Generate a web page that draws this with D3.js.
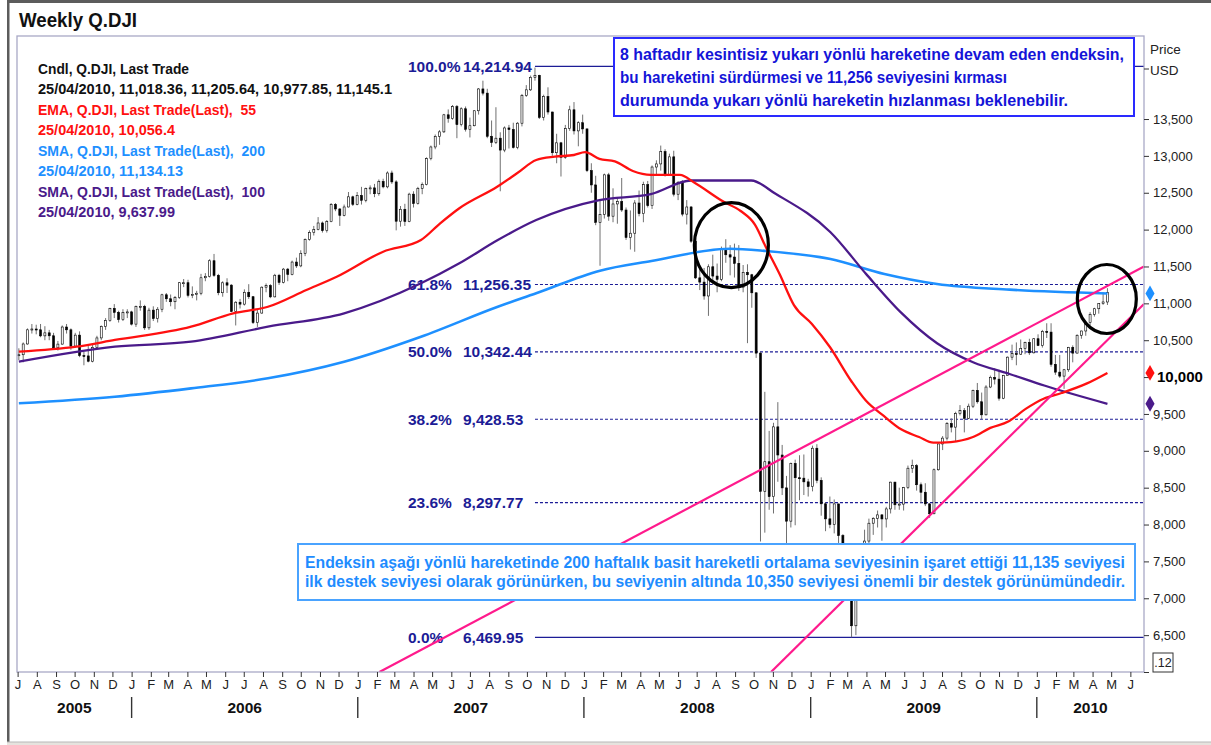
<!DOCTYPE html>
<html>
<head>
<meta charset="utf-8">
<script src="https://cdn.jsdelivr.net/npm/d3@7"></script>
<style>
  html, body { margin: 0; padding: 0; background: #fff; }
  svg { display: block; font-family: "Liberation Sans", Arial, sans-serif; }
</style>
</head>
<body>
<svg id="chart" width="1211" height="745"></svg>
<script>
// ── Data ─────────────────────────────────────────────────────────────────────
// weekly bars, one per Sunday from 03/07/2005 to 25/04/2010 (week-ending label)
const barOpen = [
  10297,10303,10449,10641,10652,10641,10559,10600,10560,10397,10447,10679,10641,10420,10569,10292,10287,10215,10403,10531,10687,10766,10932,10878,10779,10876,
  10884,10718,10959,10960,10668,10908,10794,10920,11116,11062,11022,11077,11280,11280,11109,11121,11137,11347,11367,11578,11380,11144,11279,11247,10891,11015,10989,11150,11090,10739,10868,11219,11240,11088,11381,11284,11464,11392,11560,11508,11679,11867,11960,12002,12090,11986,12108,12342,12280,12194,12307,12445,12343,
  12463,12398,12556,12566,12487,12653,12580,12768,12647,12114,12276,12110,12481,12354,12560,12612,12962,13121,13265,13326,13557,13507,13668,13424,13639,13361,13409,13612,13908,13851,13266,13182,13240,13079,13379,13358,13114,13443,13821,13896,14066,14093,13522,13806,13595,13043,13177,12981,13372,13625,13339,13450,
  13366,12800,12606,12099,12207,12743,12182,12348,12381,12266,11894,11951,12361,12216,12610,12325,12849,12891,13058,12745,12987,12480,12638,12210,12307,11843,11346,11288,11100,11496,11370,11326,11734,11659,11628,11543,11220,11421,11388,11143,10325,8451,8852,8378,9325,8943,8497,8046,8829,8635,8629,8579,
  8515,9035,8599,8281,8077,8001,8280,7850,7366,7063,6627,7224,7279,7776,8018,8083,8131,8076,8212,8575,8268,8277,8500,8764,8799,8540,8438,8280,8146,8743,9093,9172,9370,9321,9505,9544,9441,9605,9820,9665,9488,9865,9996,9972,9713,10023,10270,10318,10310,10389,10471,10329,
  10520,10428,10619,10610,10173,10067,10013,10099,10403,10325,10567,10625,10742,10851,10927,10997,11018.36
];
const barHigh = [
  10390,10470,10660,10720,10710,10720,10690,10640,10600,10490,10700,10720,10660,10600,10620,10340,10420,10440,10560,10700,10800,10940,10990,10900,10920,10920,
  10900,10970,11040,10980,10940,10960,10950,11130,11140,11120,11100,11290,11330,11320,11230,11170,11400,11410,11600,11670,11400,11300,11340,11260,11030,11060,11190,11260,11100,10910,11230,11270,11260,11400,11400,11480,11480,11580,11620,11720,11880,11990,12050,12170,12110,12130,12360,12360,12290,12340,12510,12460,12510,
  12580,12570,12600,12620,12680,12690,12790,12800,12670,12320,12350,12500,12520,12580,12640,12980,13140,13290,13350,13570,13630,13690,13690,13660,13670,13520,13620,13920,14020,13910,13480,13660,13320,13400,13420,13450,13460,13840,13960,14090,14198,14100,13830,13930,13600,13300,13190,13420,13680,13730,13470,13560,
  13370,12900,12730,12400,12760,12770,12560,12430,12700,12300,12260,12400,12530,12650,12660,12870,12940,13140,13090,13030,13070,12660,12670,12400,12320,11890,11520,11480,11530,11660,11540,11770,11870,11790,11810,11790,11520,11530,11400,11150,10340,9800,9270,9380,9660,9080,8660,8840,8880,8940,8950,8620,
  9070,9090,8640,8300,8380,8340,8280,7870,7470,7090,7250,7490,7930,8080,8100,8190,8140,8240,8580,8580,8500,8510,8800,8880,8820,8570,8560,8290,8760,9100,9200,9390,9440,9530,9620,9580,9640,9830,9920,9790,9890,10020,10120,10100,10030,10280,10440,10470,10510,10480,10520,10530,
  10580,10640,10730,10730,10300,10300,10110,10410,10430,10580,10630,10760,10880,10940,11000,11150,11205.64
];
const barLow = [
  10230,10200,10440,10590,10580,10540,10500,10500,10380,10360,10440,10590,10370,10400,10270,10160,10200,10200,10380,10500,10640,10750,10800,10740,10760,10800,
  10700,10680,10900,10640,10640,10760,10740,10880,11020,10960,10920,11060,11220,11080,11070,11040,11110,11300,11350,11360,11110,11090,11140,10880,10700,10930,10970,11060,10720,10680,10860,11150,11070,11080,11250,11270,11300,11380,11480,11490,11640,11850,11920,11990,11960,11960,12100,12250,12050,12180,12300,12320,12330,
  12340,12370,12480,12440,12460,12560,12560,12620,11990,12040,12050,12100,12300,12340,12480,12600,12940,13090,13150,13310,13450,13490,13240,13400,13330,13250,13400,13560,13820,13240,13120,13160,12520,13050,13100,13100,13090,13400,13800,13880,14020,13500,13480,13560,13000,12900,12720,12960,13340,13290,13130,13300,
  12780,12500,12060,11510,12150,12120,12100,12080,12240,11860,11730,11700,12180,12100,12300,12280,12740,12800,12720,12740,12450,12400,12180,12070,11820,11330,11180,11050,10830,11250,11150,11300,11550,11380,11350,11170,11150,10460,10940,10260,7770,7890,8200,8150,8580,8400,7450,7960,7990,8330,8400,8380,
  8450,8560,8120,7910,7950,7880,7750,7250,7000,6470,6500,7120,7270,7480,7860,7960,7780,7960,8150,8200,8200,8190,8480,8700,8460,8290,8250,8090,8140,8730,9010,9140,9250,9130,9480,9250,9430,9580,9640,9430,9480,9850,9900,9680,9700,10020,10230,10160,10300,10310,10300,10320,
  10420,10400,10530,10140,10030,9990,9840,10070,10200,10320,10520,10560,10700,10820,10860,10980,10977.85
];
const barClose = [
  10303,10449,10641,10652,10641,10559,10600,10560,10397,10447,10679,10641,10420,10569,10292,10287,10215,10403,10531,10687,10766,10932,10878,10779,10876,10884,
  10718,10959,10960,10668,10908,10794,10920,11116,11062,11022,11077,11280,11280,11109,11121,11137,11347,11367,11578,11380,11144,11279,11247,10891,11015,10989,11150,11090,10739,10868,11219,11240,11088,11381,11284,11464,11392,11560,11508,11679,11867,11960,12002,12090,11986,12108,12342,12280,12194,12307,12445,12343,12463,
  12398,12556,12566,12487,12653,12580,12768,12647,12114,12276,12110,12481,12354,12560,12612,12962,13121,13265,13326,13557,13507,13668,13424,13639,13361,13409,13612,13908,13851,13266,13182,13240,13079,13379,13358,13114,13443,13821,13896,14066,14093,13522,13806,13595,13043,13177,12981,13372,13625,13339,13450,13366,
  12800,12606,12099,12207,12743,12182,12348,12381,12266,11894,11951,12361,12216,12610,12325,12849,12891,13058,12745,12987,12480,12638,12210,12307,11843,11346,11288,11100,11496,11370,11326,11734,11659,11628,11543,11220,11421,11388,11143,10325,8451,8852,8378,9325,8943,8497,8046,8829,8635,8629,8579,8515,
  9035,8599,8281,8077,8001,8280,7850,7366,7063,6627,7224,7279,7776,8018,8083,8131,8076,8212,8575,8268,8277,8500,8764,8799,8540,8438,8280,8146,8743,9093,9172,9370,9321,9505,9544,9441,9605,9820,9665,9488,9865,9996,9972,9713,10023,10270,10318,10310,10389,10471,10329,10520,
  10428,10619,10610,10173,10067,10013,10099,10403,10325,10567,10625,10742,10851,10927,10997,11019,11145.1
];

// moving averages
const ema55 = [
  ["2005-07-03",10344],["2005-10-04",10412],["2005-12-05",10503],["2006-04-07",10683],["2006-06-14",10865],
  ["2006-08-09",10954],["2006-10-10",11181],["2006-11-28",11361],["2007-02-11",11700],["2007-04-13",11859],
  ["2007-05-14",12085],["2007-06-14",12290],["2007-08-14",12582],["2007-09-15",12764],["2007-10-16",12944],
  ["2007-11-15",12989],["2007-12-16",13012],["2008-01-03",13050],["2008-01-26",12960],["2008-02-20",12925],
  ["2008-03-20",12795],["2008-04-18",12743],["2008-06-04",12743],["2008-06-27",12639],["2008-08-13",12380],
  ["2008-09-10",12252],["2008-10-03",12068],["2008-10-21",11757],["2008-11-12",11394],["2008-12-05",10977],
  ["2009-01-03",10720],["2009-02-01",10408],["2009-03-08",9940],["2009-03-31",9681],["2009-04-29",9473],
  ["2009-05-27",9291],["2009-06-25",9187],["2009-07-18",9110],["2009-08-15",9119],["2009-09-20",9187],
  ["2009-10-18",9311],["2009-11-16",9396],["2009-12-14",9569],["2010-01-12",9707],["2010-02-10",9784],
  ["2010-03-23",9914],["2010-04-25",10056]
];
const sma200 = [
  ["2005-07-03",9644],["2005-12-05",9734],["2006-04-07",9847],["2006-08-09",9983],["2006-12-10",10208],
  ["2007-04-13",10547],["2007-08-15",10954],["2007-10-16",11136],["2008-01-27",11443],["2008-04-19",11574],
  ["2008-08-24",11741],["2008-10-21",11710],["2009-02-02",11601],["2009-04-30",11398],["2009-07-24",11262],
  ["2009-11-18",11186],["2010-04-25",11134]
];
const sma100 = [
  ["2005-07-03",10208],["2005-12-05",10412],["2006-04-07",10480],["2006-08-09",10683],["2006-12-10",10865],
  ["2007-04-13",11272],["2007-06-14",11543],["2007-08-15",11859],["2007-10-16",12130],["2008-01-26",12401],
  ["2008-04-18",12482],["2008-06-22",12666],["2008-09-27",12666],["2008-11-06",12482],["2009-02-02",11965],
  ["2009-04-01",11393],["2009-05-27",10874],["2009-07-24",10459],["2009-09-21",10198],["2009-11-18",10042],
  ["2010-01-13",9886],["2010-04-25",9638]
];
const lastValues = [11134.13, 10056.4, 9637.99];   // sma200, ema55, sma100

// Fibonacci retracement
const fibPct   = ["100.0%", "61.8%", "50.0%", "38.2%", "23.6%", "0.0%"];
const fibValue = [14214.94, 11256.35, 10342.44, 9428.53, 8297.77, 6469.95];
const fibFrom  = "2007-10-14";

// trend lines [start date, start value, end date, end value]
const trendLines = [
  ["2007-02-05", 6000, "2010-06-23", 11500],
  ["2008-10-29", 6000, "2010-06-23", 10991]
];
// highlighted zones [centre date, centre value]
const circleDates  = ["2008-08-26", "2010-04-24"];
const circleValues = [11791, 11059];

const yTickValues  = d3.range(6000, 14000, 500);
const monthLetters = ["J","F","M","A","M","J","J","A","S","O","N","D"];
const years        = [2005, 2006, 2007, 2008, 2009, 2010];

const legendLines = [
  "Cndl, Q.DJI, Last Trade",
  "25/04/2010, 11,018.36, 11,205.64, 10,977.85, 11,145.1",
  "EMA, Q.DJI, Last Trade(Last),  55",
  "25/04/2010, 10,056.4",
  "SMA, Q.DJI, Last Trade(Last),  200",
  "25/04/2010, 11,134.13",
  "SMA, Q.DJI, Last Trade(Last),  100",
  "25/04/2010, 9,637.99"
];
const noteTop = [
  "8 haftadır kesintisiz yukarı yönlü hareketine devam eden endeksin,",
  "bu hareketini sürdürmesi ve 11,256 seviyesini kırması",
  "durumunda yukarı yönlü hareketin hızlanması beklenebilir."
];
const noteBottom = [
  "Endeksin aşağı yönlü hareketinde 200 haftalık basit hareketli ortalama seviyesinin işaret ettiği 11,135 seviyesi",
  "ilk destek seviyesi olarak görünürken, bu seviyenin altında 10,350 seviyesi önemli bir destek görünümündedir."
];

// ── Layout ───────────────────────────────────────────────────────────────────
const parse = d3.timeParse("%Y-%m-%d");
const plot = { left: 17, top: 36, right: 1144, bottom: 672 };

const COL = {
  sma200: "#1e90ff", ema55: "#ff1010", sma100: "#4a1a8a",
  fib: "#1c1c96", trend: "#ff1a8c", frame: "#a9a9c6"
};

const svg = d3.select("#chart");

const x = d3.scaleTime()
  .domain([new Date(2005, 5, 30), new Date(2010, 5, 23)])
  .range([plot.left, plot.right]);
const y = d3.scaleLinear()
  .domain([6000, 14626])
  .range([plot.bottom, plot.top]);

// outer window frame
svg.append("rect").attr("x", 7).attr("y", 0).attr("width", 1204).attr("height", 3).attr("fill", "#5c5c5c");
svg.append("rect").attr("x", 7).attr("y", 0).attr("width", 2.5).attr("height", 742).attr("fill", "#5c5c5c");
svg.append("rect").attr("x", 7).attr("y", 742).attr("width", 1204).attr("height", 3).attr("fill", "#e6e3de");
svg.append("line").attr("x1", 7).attr("x2", 1211).attr("y1", 742).attr("y2", 742).attr("stroke", "#b8b8b8");

svg.append("text")
  .attr("x", 19).attr("y", 27)
  .attr("font-size", 20.5).attr("font-weight", "bold").attr("fill", "#111")
  .attr("textLength", 118).attr("lengthAdjust", "spacingAndGlyphs")
  .text("Weekly Q.DJI");

svg.append("defs").append("clipPath").attr("id", "plot-clip")
  .append("rect")
  .attr("x", plot.left).attr("y", plot.top)
  .attr("width", plot.right - plot.left).attr("height", plot.bottom - plot.top);

const g = svg.append("g").attr("clip-path", "url(#plot-clip)");

// ── Fibonacci levels ─────────────────────────────────────────────────────────
const fibX0 = x(parse(fibFrom));
fibValue.forEach((v, i) => {
  const solid = i === 0 || i === fibValue.length - 1;
  g.append("line")
    .attr("x1", fibX0).attr("x2", plot.right)
    .attr("y1", y(v)).attr("y2", y(v))
    .attr("stroke", COL.fib)
    .attr("stroke-width", solid ? 1.3 : 1.1)
    .attr("stroke-dasharray", solid ? null : "3,2");
  g.append("text")
    .attr("x", fibX0 - 127).attr("y", y(v)).attr("dy", "0.36em")
    .attr("font-size", 15.5).attr("font-weight", "bold").attr("fill", COL.fib)
    .text(fibPct[i]);
  g.append("text")
    .attr("x", fibX0 - 72).attr("y", y(v)).attr("dy", "0.36em")
    .attr("font-size", 15.5).attr("font-weight", "bold").attr("fill", COL.fib)
    .text(d3.format(",.2f")(v));
});

// ── Weekly candles ───────────────────────────────────────────────────────────
const weeks = d3.timeWeek.range(new Date(2005, 6, 3), new Date(2010, 3, 26));
const n = Math.min(weeks.length, barClose.length);
const bars = d3.range(n).map(i => ({
  date: weeks[i], o: barOpen[i], h: barHigh[i], l: barLow[i], c: barClose[i]
}));

const gBars = g.append("g");
gBars.selectAll("line").data(bars).join("line")
  .attr("x1", d => x(d.date)).attr("x2", d => x(d.date))
  .attr("y1", d => y(Math.max(d.h, d.o, d.c)))
  .attr("y2", d => y(Math.min(d.l, d.o, d.c)))
  .attr("stroke", "#707070").attr("stroke-width", 1);
gBars.selectAll("rect").data(bars).join("rect")
  .attr("x", d => x(d.date) - 1).attr("width", 2)
  .attr("y", d => y(Math.max(d.o, d.c)))
  .attr("height", d => Math.max(1, Math.abs(y(d.o) - y(d.c))))
  .attr("fill", d => d.c >= d.o ? "#fff" : "#000")
  .attr("stroke", "#000").attr("stroke-width", 0.6);

// ── Moving averages ──────────────────────────────────────────────────────────
const maLine = d3.line()
  .x(d => x(parse(d[0]))).y(d => y(d[1]))
  .curve(d3.curveMonotoneX);

[[sma200, COL.sma200, 2.6], [sma100, COL.sma100, 2.3], [ema55, COL.ema55, 2.3]]
  .forEach(([data, colour, w]) => {
    g.append("path").datum(data)
      .attr("d", maLine)
      .attr("fill", "none").attr("stroke", colour).attr("stroke-width", w)
      .attr("stroke-linejoin", "round");
  });

// ── Trend lines & circles ────────────────────────────────────────────────────
trendLines.forEach(t => {
  g.append("line")
    .attr("x1", x(parse(t[0]))).attr("y1", y(t[1]))
    .attr("x2", x(parse(t[2]))).attr("y2", y(t[3]))
    .attr("stroke", COL.trend).attr("stroke-width", 2.2);
});

const circleR = [[37, 42.5], [29.5, 34.5]];
circleDates.forEach((d, i) => {
  g.append("ellipse")
    .attr("cx", x(parse(d))).attr("cy", y(circleValues[i]))
    .attr("rx", circleR[i][0]).attr("ry", circleR[i][1])
    .attr("fill", "none").attr("stroke", "#000").attr("stroke-width", 3.2);
});

// ── Frame & axes ─────────────────────────────────────────────────────────────
svg.append("rect")
  .attr("x", plot.left).attr("y", plot.top)
  .attr("width", plot.right - plot.left).attr("height", plot.bottom - plot.top)
  .attr("fill", "none").attr("stroke", COL.frame).attr("stroke-width", 1.3);

const yAxis = svg.append("g")
  .attr("transform", `translate(${plot.right},0)`)
  .call(d3.axisRight(y).tickValues(yTickValues).tickSize(5).tickPadding(4)
    .tickFormat(d => d === 6000 ? "" : d3.format(",")(d)));
yAxis.select(".domain").remove();
yAxis.selectAll("line").attr("stroke", "#333");
yAxis.selectAll("text")
  .attr("font-family", "Liberation Sans, Arial, sans-serif")
  .attr("font-size", 13).attr("fill", "#222");
yAxis.selectAll(".tick").filter(d => d === 10000).select("text")
  .attr("font-size", 15).attr("font-weight", "bold").attr("x", 13).attr("fill", "#000");

svg.append("line").attr("x1", plot.right).attr("x2", plot.right + 5)
  .attr("y1", 69).attr("y2", 69).attr("stroke", "#333");
svg.append("text").attr("x", plot.right + 6).attr("y", 54)
  .attr("font-size", 13.5).attr("fill", "#222").text("Price");
svg.append("text").attr("x", plot.right + 6).attr("y", 75)
  .attr("font-size", 13.5).attr("fill", "#222").text("USD");

// last-value markers
[[lastValues[0], COL.sma200], [lastValues[1], COL.ema55], [lastValues[2], COL.sma100]]
  .forEach(([v, colour]) => {
    svg.append("path")
      .attr("d", d3.symbol(d3.symbolDiamond, 72)())
      .attr("transform", `translate(${plot.right + 6},${y(v)})`)
      .attr("fill", colour);
  });

// little scale box
svg.append("rect").attr("x", 1153).attr("y", 653).attr("width", 20).attr("height", 19)
  .attr("fill", "none").attr("stroke", "#333").attr("stroke-width", 1);
svg.append("text").attr("x", 1163).attr("y", 667).attr("text-anchor", "middle")
  .attr("font-size", 12.5).attr("fill", "#222").text(".12");

const xAxis = svg.append("g")
  .attr("transform", `translate(0,${plot.bottom})`)
  .call(d3.axisBottom(x).ticks(d3.timeMonth.every(1)).tickSize(5).tickPadding(3)
    .tickFormat(d => monthLetters[d.getMonth()]));
xAxis.select(".domain").remove();
xAxis.selectAll("line").attr("stroke", "#333");
xAxis.selectAll("text")
  .attr("font-family", "Liberation Sans, Arial, sans-serif")
  .attr("font-size", 13).attr("fill", "#222");

years.forEach(yr => {
  const a = x(new Date(yr, 0, 1)), b = x(new Date(yr + 1, 0, 1));
  if (a > plot.left) {
    svg.append("line").attr("x1", a).attr("x2", a).attr("y1", 697).attr("y2", 718)
      .attr("stroke", "#333").attr("stroke-width", 1.4);
  }
  svg.append("text")
    .attr("x", (Math.max(a, plot.left) + Math.min(b, plot.right)) / 2).attr("y", 713)
    .attr("text-anchor", "middle")
    .attr("font-size", 15.5).attr("font-weight", "bold").attr("fill", "#111")
    .text(yr);
});

// ── Legend ───────────────────────────────────────────────────────────────────
const legendColours = ["#111", "#111", "#ff1010", "#ff1010", "#1e90ff", "#1e90ff", "#4a1a8a", "#4a1a8a"];
const legendWidths  = [151, 354, 218, 137, 227, 145, 227, 137];
legendLines.forEach((t, i) => {
  svg.append("text")
    .attr("x", 38).attr("y", 73.5 + i * 20.5)
    .attr("font-size", 15.5).attr("font-weight", "bold")
    .attr("fill", legendColours[i])
    .attr("textLength", legendWidths[i]).attr("lengthAdjust", "spacingAndGlyphs")
    .style("white-space", "pre")
    .text(t);
});

// ── Notes ────────────────────────────────────────────────────────────────────
svg.append("rect").attr("x", 614).attr("y", 38).attr("width", 520).attr("height", 78)
  .attr("fill", "#fff").attr("stroke", "#2a2aff").attr("stroke-width", 2);
const topWidths = [504, 387, 448];
noteTop.forEach((t, i) => {
  svg.append("text")
    .attr("x", 620).attr("y", 60 + i * 23)
    .attr("font-size", 16).attr("font-weight", "bold").attr("fill", "#1414d8")
    .attr("textLength", topWidths[i]).attr("lengthAdjust", "spacingAndGlyphs")
    .text(t);
});

svg.append("rect").attr("x", 298).attr("y", 544).attr("width", 837).attr("height", 56)
  .attr("fill", "#fff").attr("stroke", "#4aa3ff").attr("stroke-width", 2);
noteBottom.forEach((t, i) => {
  svg.append("text")
    .attr("x", 305).attr("y", 567.5 + i * 19)
    .attr("font-size", 16).attr("font-weight", "bold").attr("fill", "#1e8cff")
    .attr("textLength", 820).attr("lengthAdjust", "spacingAndGlyphs")
    .text(t);
});
</script>
</body>
</html>
